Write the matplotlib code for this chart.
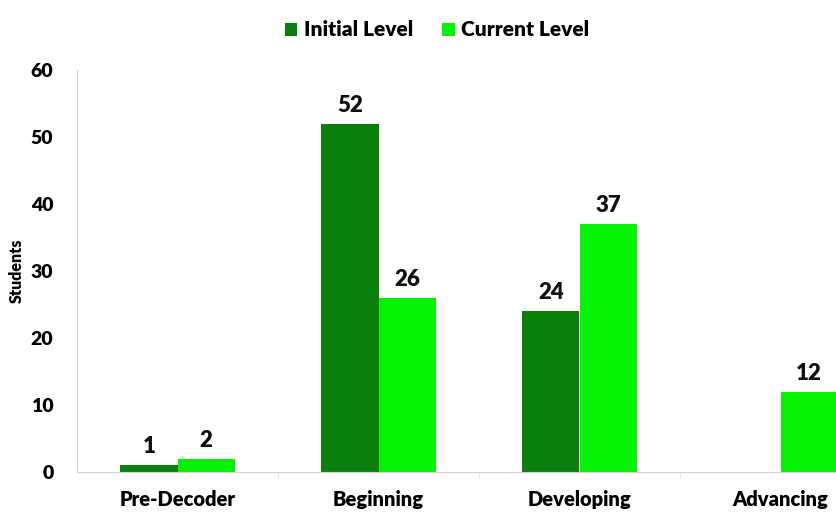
import matplotlib
matplotlib.use("Agg")
import numpy as np
from matplotlib import pyplot as plt

categories = ["Pre-Decoder", "Beginning", "Developing", "Advancing"]
initial_level = [1, 52, 24, 0]
current_level = [2, 26, 37, 12]
y_ticks = [0, 10, 20, 30, 40, 50, 60]

dark_green = "#0b7f0b"
bright_green = "#05f205"

plt.rcParams["font.family"] = ["Lato", "DejaVu Sans"]
plt.rcParams["font.weight"] = "heavy"

fig = plt.figure(figsize=(8.36, 5.17), dpi=100)
# the source image is cropped on the right, so the axes run past the figure edge
ax = fig.add_axes([77 / 836, 45 / 517, 804 / 836, 402 / 517])

x = np.arange(len(categories))
width = 0.285
b1 = ax.bar(x - width / 2, initial_level, width, color=dark_green, label="Initial Level")
b2 = ax.bar(x + width / 2, current_level, width, color=bright_green, label="Current Level")

for bars, vals in ((b1, initial_level), (b2, current_level)):
    for rect, v in zip(bars, vals):
        if v == 0:
            continue
        ax.text(rect.get_x() + rect.get_width() / 2, v + 1.2, str(v),
                ha="center", va="bottom", fontsize=16, fontweight="heavy", color="#111111")

ax.set_xlim(-0.5, len(categories) - 0.5)
ax.set_ylim(0, 60)
ax.set_yticks(y_ticks)
ax.set_yticklabels([str(t) for t in y_ticks], fontsize=14, fontweight="heavy")
ax.set_xticks(x)
ax.set_xticklabels(categories, fontsize=14.5, fontweight="heavy")
ax.set_xticks(np.arange(len(categories)) + 0.5, minor=True)
ax.tick_params(axis="x", which="major", length=0, pad=13)
ax.tick_params(axis="x", which="minor", length=4, color="#e0e0e0")
ax.tick_params(axis="y", length=0, pad=17)

for side in ("top", "right"):
    ax.spines[side].set_visible(False)
ax.spines["left"].set_color("#d0d0d0")
ax.spines["bottom"].set_color("#d0d0d0")

ax.set_ylabel("Students", fontsize=11.5, fontweight="heavy")
ax.yaxis.set_label_coords(-52 / 804, 0.5)

fig.legend(handles=[b1, b2], loc="center", bbox_to_anchor=(437 / 836, 1 - 30 / 517),
           ncol=2, frameon=False, handlelength=0.6, handleheight=0.6,
           handletextpad=0.3, columnspacing=1.4,
           prop={"size": 15, "weight": "heavy"})

fig.savefig("out.png", dpi=100)
